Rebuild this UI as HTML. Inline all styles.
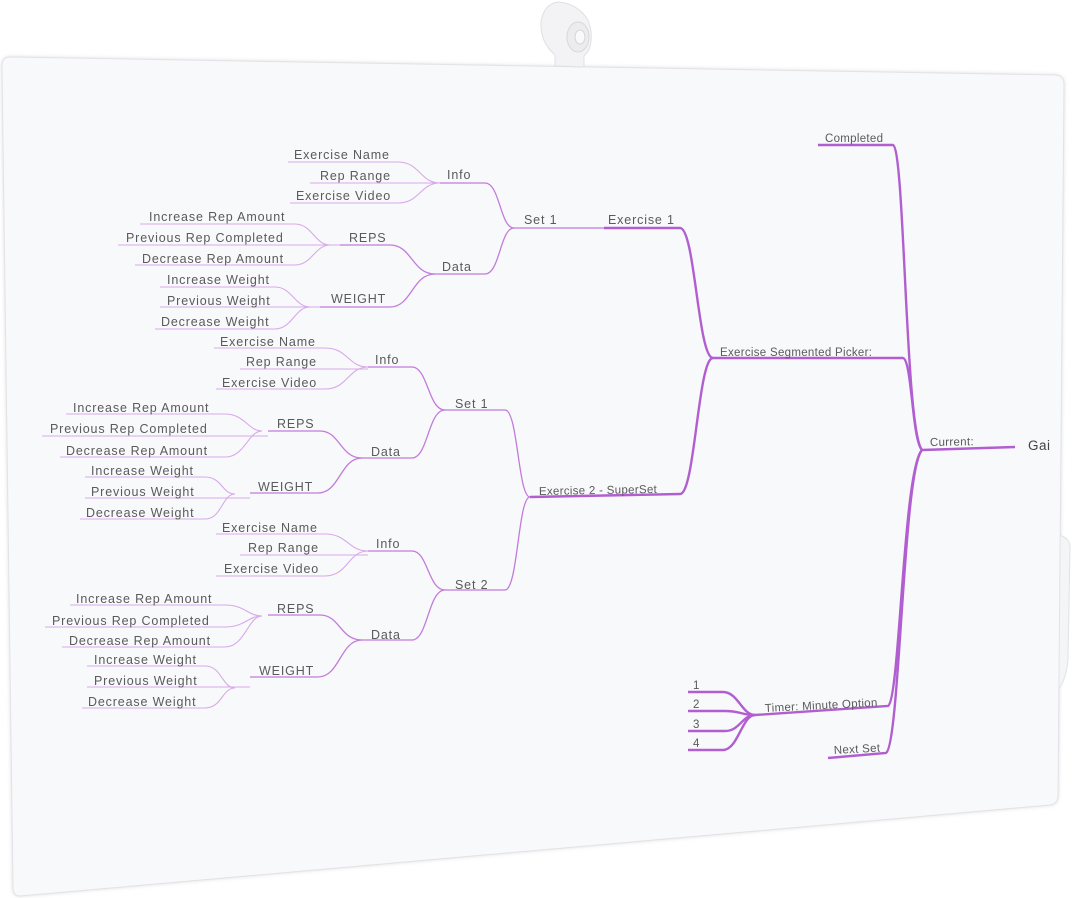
<!DOCTYPE html>
<html><head><meta charset="utf-8"><style>
html,body{margin:0;padding:0;background:#fff;width:1072px;height:898px;overflow:hidden}
svg{display:block}
text{font-family:"Liberation Sans",sans-serif;font-size:12.5px;letter-spacing:0.85px;fill:#5a5a5a}
text.r{font-size:11.5px;letter-spacing:0.3px}
.l{fill:none;stroke:#d7a9e8;stroke-width:1.1}
.m{fill:none;stroke:#c27bdb;stroke-width:1.3}
.t{fill:none;stroke:#b15fd0;stroke-width:2.4}
</style></head><body>
<svg width="1072" height="898" viewBox="0 0 1072 898">
<defs><filter id="sh" x="-5%" y="-5%" width="110%" height="110%"><feGaussianBlur stdDeviation="2"/></filter></defs>
<path d="M10,57 L1056,75 Q1064,76 1064,84 L1058,795 Q1058,804 1050,805 L20,896 Q13,896 13,888 L2,66 Q2,57 10,57 Z" fill="#d8d8dc" filter="url(#sh)"/>
<path d="M1058,535 Q1070,537 1070,548 L1068,660 Q1066,680 1058,690 Z" fill="#f4f5f7" stroke="#e2e2e6"/>
<path d="M10,57 L1056,75 Q1064,76 1064,84 L1058,795 Q1058,804 1050,805 L20,896 Q13,896 13,888 L2,66 Q2,57 10,57 Z" fill="#f8f9fb" stroke="#e3e3e7"/>
<path d="M555,66 L555,55 Q540,42 541,22 Q544,3 559,2 Q578,4 588,20 Q594,35 589,50 L584,56 L584,67 Z" fill="#f3f3f6" stroke="#e0e0e4"/>
<ellipse cx="578" cy="37" rx="11" ry="15" fill="#ececef" stroke="#d8d8dc"/>
<ellipse cx="580" cy="37" rx="5" ry="7" fill="#f9f9fb" stroke="#d5d5da"/>

<path class="t" d="M818,145 H893 C905,150 905,430 922,450"/>
<path class="t" d="M713,358 H903 C912,360 912,440 922,450"/>
<path class="t" d="M922,450 L1015,447"/>
<path class="t" d="M755,715 L888,706 C900,700 903,470 922,450"/>
<path class="t" d="M828,758 L886,753 C900,745 903,470 922,450"/>
<text class="r" x="825" y="142">Completed</text>
<text class="r" x="720" y="356">Exercise Segmented Picker:</text>
<text class="r" x="930" y="446" transform="rotate(-1 930 446)">Current:</text>
<text x="1028" y="450" style="font-size:13.5px;fill:#444;letter-spacing:0.5px">Gai</text>
<text class="r" x="765" y="712" transform="rotate(-3 765 712)">Timer: Minute Option</text>
<text class="r" x="834" y="754" transform="rotate(-3 834 754)">Next Set</text>
<path class="t" d="M688,692 H723 C738,692 742,715 755,715"/>
<path class="t" d="M688,711 H725 C740,711 742,715 755,715"/>
<path class="t" d="M688,731 H725 C740,731 742,715 755,715"/>
<path class="t" d="M688,750 H723 C738,750 742,715 755,715"/>
<text class="r" x="693" y="689">1</text><text class="r" x="693" y="708">2</text><text class="r" x="693" y="728">3</text><text class="r" x="693" y="747">4</text>

<path class="t" d="M604,228 H680 C695,228 698,358 713,358"/>
<text x="608" y="224">Exercise 1</text>
<path class="m" d="M514,228 H604"/>
<text x="524" y="224">Set 1</text>
<path class="m" d="M440,183 H485 C500,183 500,228 514,228"/>
<path class="m" d="M435,274 H485 C500,274 500,228 514,228"/>
<text x="447" y="179">Info</text><text x="442" y="271">Data</text>
<path class="l" d="M288,162 H398 C420,162 420,183 440,183"/>
<path class="l" d="M310,183 H440"/>
<path class="l" d="M290,203 H398 C420,203 420,183 440,183"/>
<text x="294" y="159">Exercise Name</text><text x="320" y="180">Rep Range</text><text x="296" y="200">Exercise Video</text>
<path class="m" d="M340,245 H390 C412,245 412,274 435,274"/>
<path class="m" d="M320,307 H390 C412,307 412,274 435,274"/>
<text x="349" y="242">REPS</text><text x="331" y="303">WEIGHT</text>
<path class="l" d="M140,224 H295 C312,224 315,245 330,245"/>
<path class="l" d="M118,245 H340"/>
<path class="l" d="M135,265 H295 C312,265 315,245 330,245"/>
<text x="149" y="221">Increase Rep Amount</text><text x="126" y="242">Previous Rep Completed</text><text x="142" y="263">Decrease Rep Amount</text>
<path class="l" d="M160,287 H275 C292,287 295,307 310,307"/>
<path class="l" d="M160,307 H320"/>
<path class="l" d="M155,329 H275 C292,329 295,307 310,307"/>
<text x="167" y="284">Increase Weight</text><text x="167" y="305">Previous Weight</text><text x="161" y="326">Decrease Weight</text>

<path class="t" d="M530,497 L680,494 C695,494 698,358 713,358"/>
<text class="r" x="539" y="495" transform="rotate(-1 539 495)">Exercise 2 - SuperSet</text>
<path class="m" d="M445,410 H505 C518,410 518,497 530,497"/>
<path class="m" d="M445,590 H505 C518,590 518,497 530,497"/>
<text x="455" y="408">Set 1</text><text x="455" y="589">Set 2</text>
<path class="m" d="M368,367 H412 C428,367 428,410 445,410"/>
<path class="m" d="M362,458 H412 C428,458 428,410 445,410"/>
<text x="375" y="364">Info</text><text x="371" y="456">Data</text>
<path class="l" d="M214,348 H325 C348,348 348,367 368,367"/>
<path class="l" d="M240,369 H368"/>
<path class="l" d="M216,389 H325 C348,389 348,367 368,367"/>
<text x="220" y="346">Exercise Name</text><text x="246" y="366">Rep Range</text><text x="222" y="387">Exercise Video</text>
<path class="m" d="M268,431 H320 C340,431 340,458 362,458"/>
<path class="m" d="M250,493 H318 C340,493 340,458 362,458"/>
<text x="277" y="428">REPS</text><text x="258" y="491">WEIGHT</text>
<path class="l" d="M66,414 H225 C245,414 248,431 262,431"/>
<path class="l" d="M42,436 H268"/>
<path class="l" d="M60,457 H225 C245,457 248,431 262,431"/>
<text x="73" y="412">Increase Rep Amount</text><text x="50" y="433">Previous Rep Completed</text><text x="66" y="455">Decrease Rep Amount</text>
<path class="l" d="M85,477 H205 C222,477 222,494 235,494"/>
<path class="l" d="M85,498 H250"/>
<path class="l" d="M80,519 H205 C222,519 222,494 235,494"/>
<text x="91" y="475">Increase Weight</text><text x="91" y="496">Previous Weight</text><text x="86" y="517">Decrease Weight</text>
<path class="m" d="M368,551 H412 C428,551 428,590 445,590"/>
<path class="m" d="M362,640 H412 C428,640 428,590 445,590"/>
<text x="376" y="548">Info</text><text x="371" y="639">Data</text>
<path class="l" d="M216,534 H325 C348,534 348,551 368,551"/>
<path class="l" d="M240,555 H368"/>
<path class="l" d="M216,576 H325 C348,576 348,551 368,551"/>
<text x="222" y="532">Exercise Name</text><text x="248" y="552">Rep Range</text><text x="224" y="573">Exercise Video</text>
<path class="m" d="M268,615 H320 C340,615 340,640 362,640"/>
<path class="m" d="M250,677 H318 C340,677 340,640 362,640"/>
<text x="277" y="613">REPS</text><text x="259" y="675">WEIGHT</text>
<path class="l" d="M70,605 H225 C245,605 248,616 262,616"/>
<path class="l" d="M45,627 H225 C245,627 248,616 262,616"/>
<path class="l" d="M62,647 H225 C245,647 248,616 262,616"/>
<text x="76" y="603">Increase Rep Amount</text><text x="52" y="625">Previous Rep Completed</text><text x="69" y="645">Decrease Rep Amount</text>
<path class="l" d="M87,666 H205 C222,666 222,688 235,688"/>
<path class="l" d="M87,687 H250"/>
<path class="l" d="M82,708 H205 C222,708 222,688 235,688"/>
<text x="94" y="664">Increase Weight</text><text x="94" y="685">Previous Weight</text><text x="88" y="706">Decrease Weight</text>
</svg>
</body></html>
